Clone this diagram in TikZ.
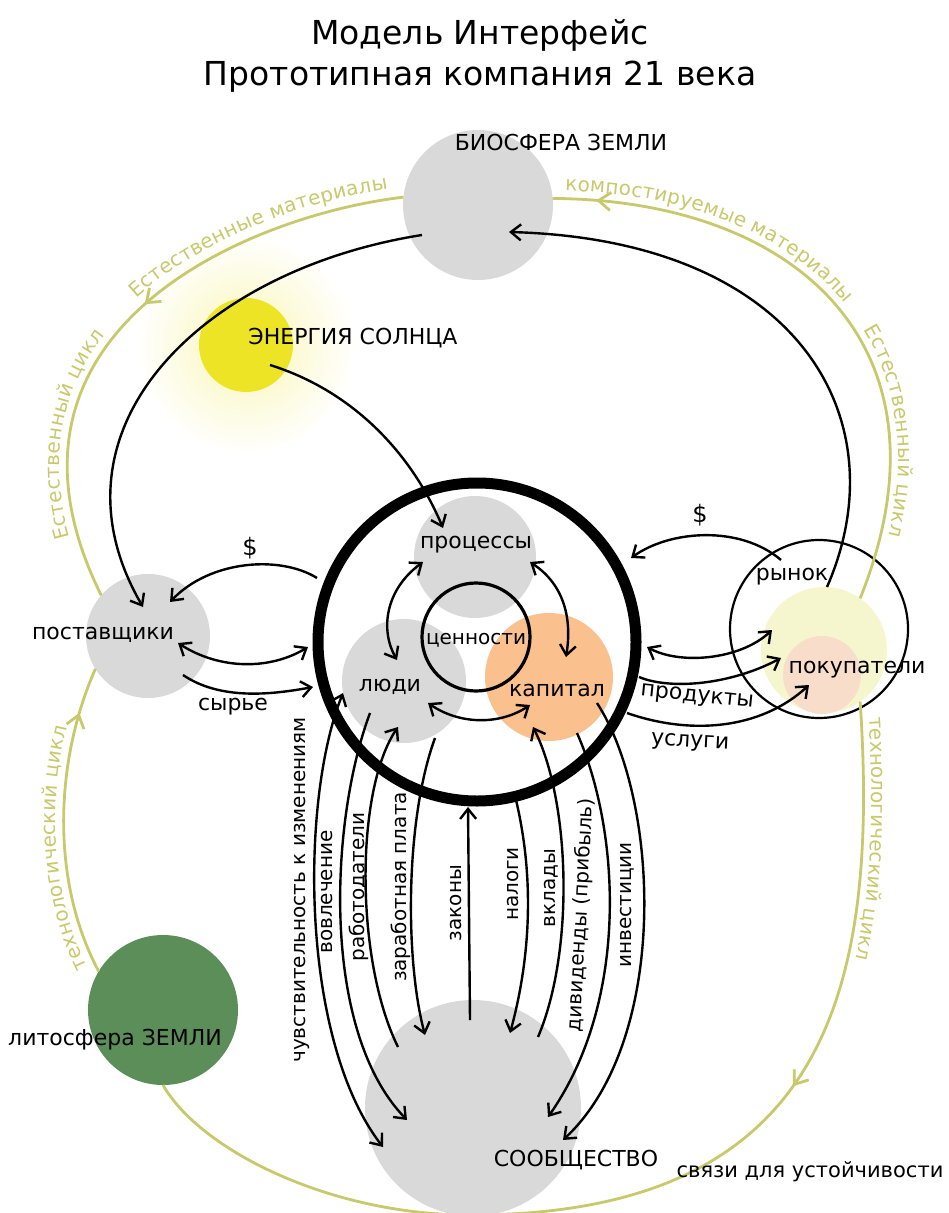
\documentclass[tikz,border=0pt]{standalone}
\usepackage{fontspec}
\setmainfont{DejaVu Sans}
\usetikzlibrary{arrows.meta,calc,decorations.text,decorations.markings}
\definecolor{blobgray}{RGB}{217,217,217}
\definecolor{caporange}{RGB}{250,192,142}
\definecolor{sunyellow}{RGB}{238,228,38}
\definecolor{buypale}{RGB}{246,246,206}
\definecolor{buypink}{RGB}{248,221,203}
\definecolor{litgreen}{RGB}{92,142,89}
\definecolor{ecocol}{RGB}{200,200,108}
\newcommand{\ecofont}{\fontsize{10}{12}\selectfont\color{ecocol}}
\begin{document}
\begin{tikzpicture}[>={Straight Barb[length=5pt,width=8pt]}, x=0.5pt, y=-0.5pt]
\tikzstyle{blob}=[circle,inner sep=0pt,outer sep=0pt]
\tikzstyle{lbl}=[font=\fontsize{11}{13}\selectfont,inner sep=1pt]
\tikzstyle{vlbl}=[font=\fontsize{10}{12}\selectfont,inner sep=1pt,rotate=90]
\tikzstyle{flow}=[line width=1.2pt]
\tikzstyle{ecoline}=[draw=ecocol,line width=1.4pt]
\useasboundingbox (0,0) rectangle (948,1213);

% glow round the sun
\shade[inner color=sunyellow!35,outer color=white] (246,345) circle [radius=110];

% discs
\node[blob,fill=blobgray,minimum size=75pt] (bio) at (478,205) {};
\node[blob,fill=sunyellow,minimum size=47pt] (sun) at (246,345) {};
\node[blob,fill=blobgray,minimum size=62pt] (sup) at (148,636) {};
\node[blob,fill=blobgray,minimum size=61pt] (proc) at (475,557) {};
\node[blob,fill=blobgray,minimum size=62pt] (ppl) at (404,681) {};
\node[blob,fill=caporange,minimum size=64pt] (cap) at (549,677) {};
\node[blob,fill=buypale,minimum size=63pt] (buy) at (824,650) {};
\node[blob,fill=buypink,minimum size=39pt] (buyin) at (822,675) {};
\node[blob,fill=blobgray,minimum size=108pt] (com) at (473,1108) {};
\node[blob,fill=litgreen,minimum size=75pt] (lit) at (163,1010) {};
\node[blob,draw,line width=5.5pt,minimum size=159pt] (ring) at (477,642) {};
\node[blob,draw,line width=1.6pt,minimum size=54pt] (val) at (476,637) {};
\node[blob,draw,line width=1.1pt,minimum size=89pt] (mkt) at (819,629) {};

% natural and technical cycles
\draw[ecoline,postaction={decorate,decoration={markings,mark=at position 0.47 with {\arrow{Straight Barb[length=6pt,width=9pt]}}}}]
  (bio.174) .. controls (250,215) and (-30,330) .. (sup.139);
\draw[ecoline,postaction={decorate,decoration={markings,mark=at position 0.07 with {\arrowreversed{Straight Barb[length=6pt,width=9pt]}}}}]
  (bio.5) .. controls (800,200) and (960,350) .. (buy.55);
\draw[ecoline,postaction={decorate,decoration={markings,mark=at position 0.85 with {\arrow{Straight Barb[length=6pt,width=9pt]}}}}]
  (lit.149) .. controls (50,880) and (55,760) .. (sup.212);
\draw[ecoline,postaction={decorate,decoration={markings,mark=at position 0.36 with {\arrow{Straight Barb[length=6pt,width=9pt]}}}}]
  (buy.-55) .. controls (880,1000) and (820,1215) .. (470,1215) .. controls (330,1215) and (200,1150) .. (lit.270);

\path[decorate,decoration={text along path,raise=4pt,text align={left indent=32pt},text={|\ecofont|Естественный цикл}}]
  (sup.139) .. controls (-30,330) and (250,215) .. (bio.174);
\path[decorate,decoration={text along path,raise=5pt,text align={align=right,right indent=7pt},text={|\ecofont|Естественные материалы}}]
  (sup.139) .. controls (-30,330) and (250,215) .. (bio.174);
\path[decorate,decoration={text along path,raise=4pt,text align={left indent=6pt},text={|\ecofont|компостируемые материалы}}]
  (bio.5) .. controls (800,200) and (960,350) .. (buy.55);
\path[decorate,decoration={text along path,raise=4pt,text align={align=right,right indent=34pt},text={|\ecofont|Естественный цикл}}]
  (bio.5) .. controls (800,200) and (960,350) .. (buy.55);
\path[decorate,decoration={text along path,raise=4pt,text align={left indent=4pt},text={|\ecofont|технологический цикл}}]
  (lit.149) .. controls (50,880) and (55,760) .. (sup.212);
\path[decorate,decoration={text along path,raise=4pt,text align={left indent=8pt},text={|\ecofont|технологический цикл}}]
  (buy.-55) .. controls (880,1000) and (820,1215) .. (470,1215);

% outer flows
\draw[flow,->] ($(bio)+(-56,30)$) .. controls (200,270) and (40,430) .. ($(sup)+(-5,-29)$);
\draw[flow,->] ($(mkt)+(8,-42)$) .. controls (900,420) and (800,240) .. ($(bio)+(31,27)$);
\draw[flow,->] ($(sun)+(24,20)$) .. controls (350,390) and (410,450) .. ($(proc)+(-32,-29)$);
\draw[flow,->] ($(ring)+(-160,-64)$) .. controls (280,555) and (210,560) .. ($(sup)+(22,-34)$);
\draw[flow,<->] ($(sup)+(30,7)$) .. controls (220,670) and (270,670) .. ($(ring)+(-169,5)$);
\draw[flow,->] ($(sup)+(35,39)$) .. controls (220,700) and (270,695) .. ($(ring)+(-164,45)$);
\draw[flow,->] ($(mkt)+(-38,-69)$) .. controls (740,525) and (670,530) .. ($(ring)+(154,-84)$);
\draw[flow,<->] ($(ring)+(170,5)$) .. controls (680,665) and (740,660) .. ($(mkt)+(-47,1)$);
\draw[flow,->] ($(ring)+(162,35)$) .. controls (670,690) and (730,685) .. ($(mkt)+(-38,29)$);
\draw[flow,->] ($(ring)+(150,71)$) .. controls (690,735) and (760,730) .. ($(buy)+(-15,35)$);

% inside the company
\draw[flow,<->] ($(proc)+(-52,5)$) .. controls (385,590) and (380,630) .. ($(ppl)+(-7,-21)$);
\draw[flow,<->] ($(proc)+(55,5)$) .. controls (565,585) and (572,620) .. ($(cap)+(17,-20)$);
\draw[flow,<->] ($(ppl)+(24,22)$) .. controls (460,725) and (500,725) .. ($(cap)+(-19,28)$);

% links to the community
\draw[flow,<->] ($(ppl)+(-61,12)$) .. controls (300,800) and (300,1040) .. ($(com)+(-90,39)$);
\draw[flow,->] ($(ppl)+(-34,32)$) .. controls (330,820) and (320,1030) .. ($(com)+(-66,12)$);
\draw[flow,->] ($(com)+(-75,-61)$) .. controls (355,960) and (355,790) .. ($(ppl)+(-6,46)$);
\draw[flow,->] ($(ppl)+(31,57)$) .. controls (405,820) and (405,960) .. ($(com)+(-48,-73)$);
\draw[flow,->] ($(com)+(-3,-88)$) -- ($(ring)+(-9,165)$);
\draw[flow,->] ($(ring)+(39,158)$) .. controls (535,880) and (530,960) .. ($(com)+(37,-75)$);
\draw[flow,->] ($(com)+(65,-71)$) .. controls (575,950) and (570,800) .. ($(cap)+(-16,50)$);
\draw[flow,->] ($(cap)+(28,56)$) .. controls (620,830) and (630,1000) .. ($(com)+(75,9)$);
\draw[flow,->] ($(cap)+(48,26)$) .. controls (660,800) and (670,1040) .. ($(com)+(90,32)$);

% labels
\node[font=\fontsize{16.5}{20.5}\selectfont,align=center] (title) at (480,56) {Модель Интерфейс\\Прототипная компания 21 века};
\node[lbl] (biolbl) at (561,142) {БИОСФЕРА ЗЕМЛИ};
\node[lbl] (sunlbl) at (353,338) {ЭНЕРГИЯ СОЛНЦА};
\node[lbl] (suplbl) at (103,635) {поставщики};
\node[lbl] (proclbl) at (476,545) {процессы};
\node[lbl,font=\fontsize{10}{12}\selectfont] (vallbl) at (476,640) {ценности};
\node[lbl] (ppllbl) at (390,687) {люди};
\node[lbl] (caplbl) at (557,690) {капитал};
\node[lbl] (mktlbl) at (792,577) {рынок};
\node[lbl] (buylbl) at (857,670) {покупатели};
\node[lbl] (comlbl) at (576,1160) {СООБЩЕСТВО};
\node[lbl] (litlbl) at (115,1040) {литосфера ЗЕМЛИ};
\node[lbl,font=\fontsize{10.5}{12}\selectfont] (linklbl) at (810,1172) {связи для устойчивости};
\node[lbl,font=\fontsize{12}{14}\selectfont] (dolsup) at (250,548) {\$};
\node[lbl,font=\fontsize{12}{14}\selectfont] (dolmkt) at (700,515) {\$};
\node[lbl] (rawlbl) at (233,707) {сырье};
\node[lbl,rotate=-6] (prodlbl) at (697,698) {продукты};
\node[lbl,rotate=-3] (servlbl) at (690,743) {услуги};
\node[vlbl] at (302,890) {чувствительность к изменениям};
\node[vlbl] at (327,892) {вовлечение};
\node[vlbl] at (359,887) {работодатели};
\node[vlbl] at (401,887) {заработная плата};
\node[vlbl] at (456,903) {законы};
\node[vlbl] at (513,884) {налоги};
\node[vlbl] at (551,888) {вклады};
\node[vlbl,rotate=-3] at (581,915) {дивиденды (прибыль)};
\node[vlbl] at (627,905) {инвестиции};
\end{tikzpicture}
\end{document}
